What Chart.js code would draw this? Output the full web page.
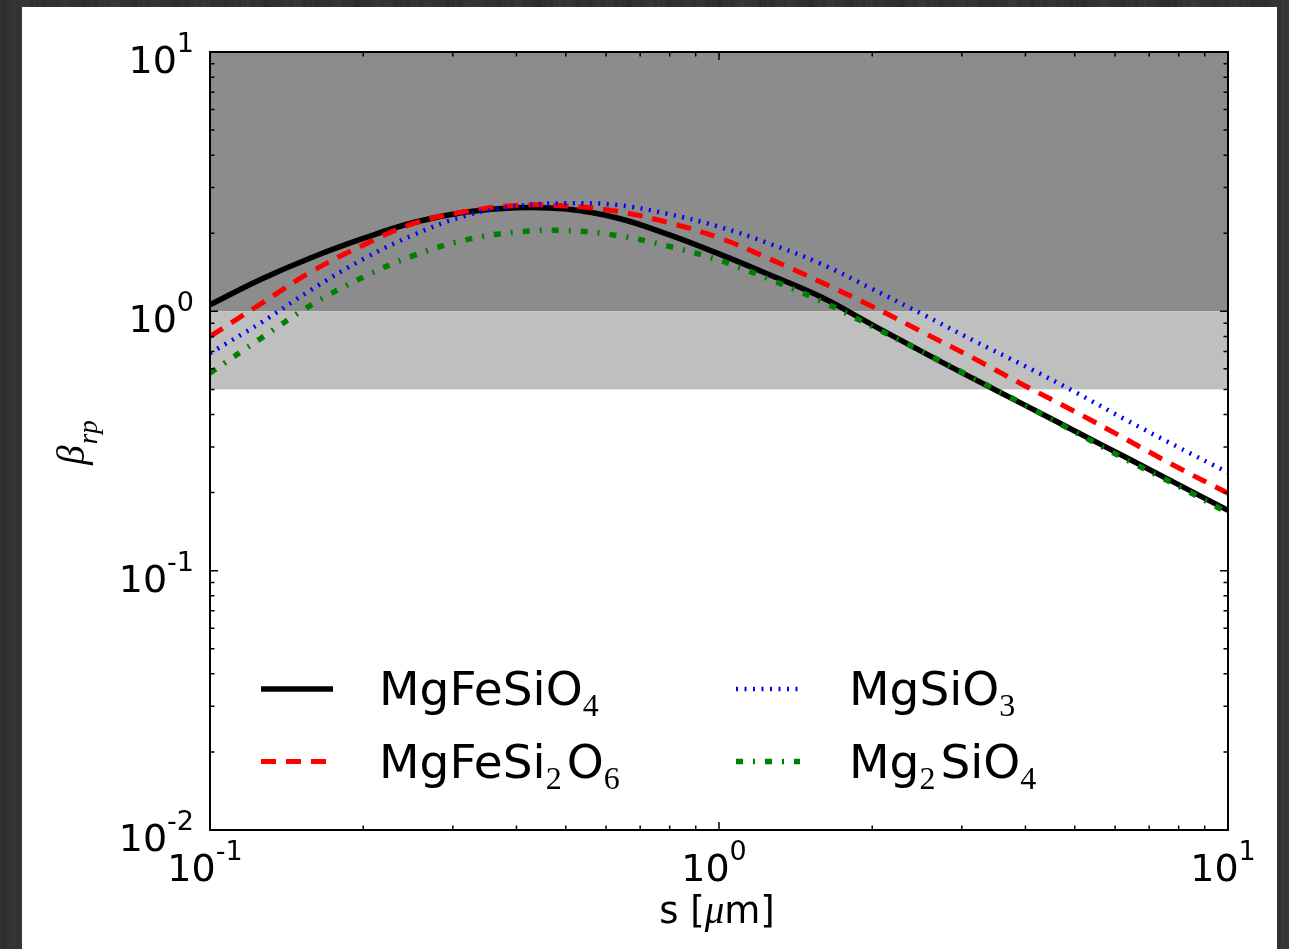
<!DOCTYPE html>
<html>
<head>
<meta charset="utf-8">
<title>Radiation pressure efficiency of silicate grains</title>
<script src="https://cdn.jsdelivr.net/npm/chart.js@4.4.1/dist/chart.umd.min.js"></script>
<style>
  html, body { margin: 0; padding: 0; width: 1289px; height: 949px; overflow: hidden; }
  body {
    background-color: #303030;
    background-image:
      repeating-linear-gradient(90deg, rgba(255,255,255,0.03) 0px, rgba(255,255,255,0.00) 3px, rgba(0,0,0,0.06) 6px, rgba(255,255,255,0.02) 9px, rgba(0,0,0,0.00) 13px),
      repeating-linear-gradient(90deg, #2c2c2c 0px, #363636 23px, #2e2e2e 41px, #343434 67px, #2b2b2b 90px);
  }
  #panel { position: absolute; left: 22px; top: 7px; width: 1255px; height: 942px; background: #ffffff; }
  #chart { position: absolute; left: 0; top: 0; }
</style>
</head>
<body>
<div id="panel"></div>
<canvas id="chart" width="1289" height="949"></canvas>
<script>
// Grain radius s in micrometres
const sizeUm = [0.1, 0.126, 0.158, 0.2, 0.251, 0.316, 0.398, 0.501, 0.631, 0.794,
                1, 1.26, 1.58, 2, 2.51, 3.16, 3.98, 5.01, 6.31, 7.94, 10];

// beta_rp for each composition
const betaMgFeSiO4  = [1.06, 1.33, 1.61, 1.91, 2.20, 2.41, 2.51, 2.48, 2.29, 1.98,
                       1.665, 1.38, 1.14, 0.887, 0.698, 0.550, 0.436, 0.345, 0.273, 0.216, 0.171];
const betaMgFeSi2O6 = [0.80, 1.07, 1.42, 1.80, 2.18, 2.42, 2.56, 2.55, 2.43, 2.20,
                       1.92, 1.59, 1.30, 1.044, 0.832, 0.660, 0.518, 0.410, 0.321, 0.251, 0.199];
const betaMgSiO3    = [0.69, 0.905, 1.21, 1.59, 1.97, 2.33, 2.54, 2.61, 2.57, 2.375,
                       2.12, 1.82, 1.53, 1.22, 0.975, 0.772, 0.617, 0.488, 0.381, 0.301, 0.239];
const betaMg2SiO4   = [0.578, 0.788, 1.057, 1.355, 1.641, 1.881, 2.02, 2.05, 1.96, 1.784,
                       1.575, 1.326, 1.10, 0.874, 0.698, 0.553, 0.437, 0.342, 0.268, 0.213, 0.167];

const seriesLabels = ['MgFeSiO4', 'MgFeSi2O6', 'MgSiO3', 'Mg2SiO4'];

// Shaded beta ranges (lower, upper)
const shadeLower = [1, 0.5];
const shadeUpper = [10, 1];

// Axis limits and decade ticks
const xLimits = [0.1, 10];
const yLimits = [0.01, 10];
const xDecades = [-1, 0, 1];
const yDecades = [-2, -1, 0, 1];

const SANS = '"DejaVu Sans", sans-serif';
const SERIF = '"Liberation Serif", "DejaVu Serif", serif';
const shadeColors = ['#8c8c8c', '#bfbfbf'];

function toPoints(values) {
  return sizeUm.map((s, i) => ({ x: s, y: values[i] }));
}

// Draw a run of text pieces with their own fonts and vertical offsets
function drawRich(ctx, segs, x, y, align) {
  let total = 0;
  const widths = segs.map(seg => {
    ctx.font = seg.font;
    const w = ctx.measureText(seg.t).width + (seg.gap || 0);
    total += w;
    return w;
  });
  let cx = align === 'center' ? x - total / 2 : (align === 'right' ? x - total : x);
  ctx.textAlign = 'left';
  ctx.textBaseline = 'alphabetic';
  segs.forEach((seg, i) => {
    ctx.font = seg.font;
    ctx.fillText(seg.t, cx, y + (seg.dy || 0));
    cx += widths[i];
  });
  return total;
}

function powerLabel(exp) {
  return [
    { t: '10', font: '38px ' + SANS },
    { t: exp < 0 ? '-' + Math.abs(exp) : String(exp), font: '27px ' + SANS, dy: -21 }
  ];
}

// Chemical formula: digits become subscripts
function formulaSegs(label) {
  const parts = label.split(/(\d+)/).filter(p => p.length);
  return parts.map((p, i) => {
    if (/^\d+$/.test(p)) {
      return { t: p, font: '32px ' + SERIF, dy: 11, gap: i < parts.length - 1 ? 5 : 0 };
    }
    return { t: p, font: '47px ' + SANS };
  });
}

const axesDecor = {
  id: 'axesDecor',
  beforeDatasetsDraw(chart) {
    const { ctx, chartArea: a, scales: { y } } = chart;
    ctx.save();
    ctx.beginPath();
    ctx.rect(a.left, a.top, a.right - a.left, a.bottom - a.top);
    ctx.clip();
    shadeLower.forEach((lo, i) => {
      const yTop = y.getPixelForValue(shadeUpper[i]);
      const yBot = y.getPixelForValue(lo);
      ctx.fillStyle = shadeColors[i];
      ctx.fillRect(a.left, yTop, a.right - a.left, yBot - yTop);
    });
    ctx.restore();
  },
  afterDatasetsDraw(chart) {
    const { ctx, chartArea: a, scales: { x, y } } = chart;
    ctx.save();

    // ticks on all four sides, pointing inwards
    ctx.strokeStyle = '#000';
    ctx.lineWidth = 1.5;
    const majorLen = 8, minorLen = 4.5;
    const tickSet = (decades, lim) => {
      const out = [];
      decades.forEach(d => {
        const base = Math.pow(10, d);
        out.push({ v: base, major: true });
        for (let k = 2; k <= 9; k++) {
          const v = k * base;
          if (v < lim[1] * 0.999) out.push({ v, major: false });
        }
      });
      return out;
    };
    ctx.beginPath();
    tickSet(xDecades, xLimits).forEach(t => {
      const px = x.getPixelForValue(t.v);
      const len = t.major ? majorLen : minorLen;
      ctx.moveTo(px, a.bottom); ctx.lineTo(px, a.bottom - len);
      ctx.moveTo(px, a.top); ctx.lineTo(px, a.top + len);
    });
    tickSet(yDecades, yLimits).forEach(t => {
      const py = y.getPixelForValue(t.v);
      const len = t.major ? majorLen : minorLen;
      ctx.moveTo(a.left, py); ctx.lineTo(a.left + len, py);
      ctx.moveTo(a.right, py); ctx.lineTo(a.right - len, py);
    });
    ctx.stroke();

    // frame
    ctx.lineWidth = 2;
    ctx.strokeRect(a.left, a.top, a.right - a.left, a.bottom - a.top);

    // tick labels
    ctx.fillStyle = '#000';
    xDecades.forEach(d => {
      const px = x.getPixelForValue(Math.pow(10, d));
      drawRich(ctx, powerLabel(d), px - 5, a.bottom + 51, 'center');
    });
    yDecades.forEach(d => {
      const py = y.getPixelForValue(Math.pow(10, d));
      drawRich(ctx, powerLabel(d), a.left - 16, py + 21, 'right');
    });

    // x-axis title
    drawRich(ctx, [
      { t: 's [', font: '37px ' + SANS },
      { t: '\u03bc', font: 'italic 39px ' + SERIF },
      { t: 'm]', font: '37px ' + SANS }
    ], (a.left + a.right) / 2 - 2, 923, 'center');

    // y-axis title, rotated
    ctx.save();
    ctx.translate(84, (a.top + a.bottom) / 2 + 1.5);
    ctx.rotate(-Math.PI / 2);
    drawRich(ctx, [
      { t: '\u03b2', font: 'italic 39px ' + SERIF, gap: 1 },
      { t: 'rp', font: 'italic 27px ' + SERIF, dy: 13 }
    ], 0, 0, 'center');
    ctx.restore();

    // legend: two columns, no frame
    const cols = [{ x0: 261, x1: 333, tx: 379 }, { x0: 736, x1: 800, tx: 849 }];
    const rows = [689, 761.5];
    chart.data.datasets.forEach((ds, i) => {
      const c = cols[Math.floor(i / 2)];
      const r = rows[i % 2];
      ctx.save();
      ctx.strokeStyle = ds.borderColor;
      ctx.lineWidth = ds.borderWidth;
      ctx.lineCap = 'butt';
      ctx.setLineDash(ds.borderDash || []);
      ctx.beginPath();
      ctx.moveTo(c.x0, r);
      ctx.lineTo(c.x1, r);
      ctx.stroke();
      ctx.restore();
      ctx.fillStyle = '#000';
      drawRich(ctx, formulaSegs(ds.label), c.tx, r + 16, 'left');
    });

    ctx.restore();
  }
};

const chart = new Chart(document.getElementById('chart'), {
  type: 'line',
  data: {
    datasets: [
      { label: seriesLabels[0], data: toPoints(betaMgFeSiO4), borderColor: '#000000',
        borderWidth: 5.5, borderDash: [], order: 4 },
      { label: seriesLabels[1], data: toPoints(betaMgFeSi2O6), borderColor: '#ff0000',
        borderWidth: 5, borderDash: [15, 10], order: 3 },
      { label: seriesLabels[2], data: toPoints(betaMgSiO3), borderColor: '#0000ff',
        borderWidth: 4.5, borderDash: [2, 6.5], order: 2 },
      { label: seriesLabels[3], data: toPoints(betaMg2SiO4), borderColor: '#008000',
        borderWidth: 5.5, borderDash: [7, 10, 2, 10], order: 1 }
    ]
  },
  options: {
    responsive: false,
    devicePixelRatio: 1,
    animation: false,
    layout: { padding: { left: 210, right: 61, top: 52, bottom: 119 } },
    elements: {
      point: { radius: 0, hoverRadius: 0 },
      line: { fill: false, tension: 0.4, borderCapStyle: 'butt', borderJoinStyle: 'round' }
    },
    plugins: { legend: { display: false }, tooltip: { enabled: false } },
    scales: {
      x: { type: 'logarithmic', min: xLimits[0], max: xLimits[1], display: false },
      y: { type: 'logarithmic', min: yLimits[0], max: yLimits[1], display: false }
    }
  },
  plugins: [axesDecor]
});
</script>
</body>
</html>
